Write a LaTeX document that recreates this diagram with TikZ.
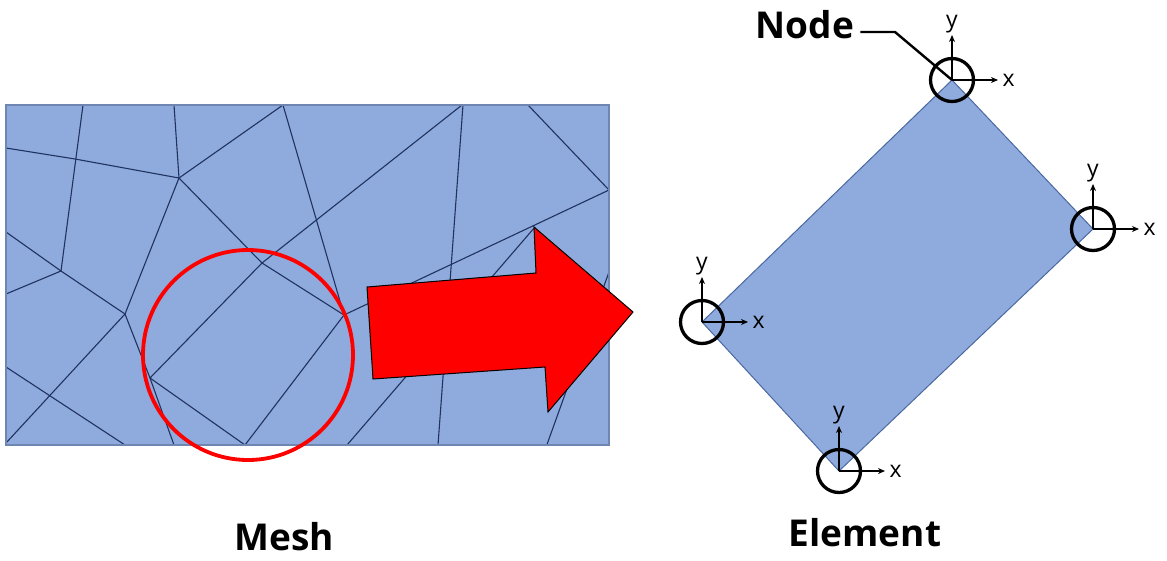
\documentclass[tikz,border=0pt]{standalone}
\usepackage{fontspec}
\setmainfont{Open Sans}
\usetikzlibrary{arrows.meta}

\definecolor{meshblue}{HTML}{8FAADC}
\definecolor{meshline}{HTML}{1F3360}
\definecolor{meshframe}{HTML}{6F86B2}
\definecolor{elemline}{HTML}{4A68A0}

\begin{document}
\begin{tikzpicture}[
    x=1pt, y=-1pt,
    edge/.style={draw=meshline, line width=1.1pt, line join=round},
    frame/.style={draw=meshframe, line width=1.2pt},
    zoomring/.style={circle, draw=red, line width=3.8pt, minimum size=210pt, inner sep=0pt},
    bigarrow/.style={fill=red, draw=black, line width=1pt, line join=miter},
    elem/.style={fill=meshblue, draw=elemline, line width=1pt},
    ring/.style={circle, draw=black, line width=3.3pt, minimum size=43pt, inner sep=0pt},
    axis/.style={-{Stealth[length=7pt, width=6pt]}, line width=1.3pt},
    axlabel/.style={font=\fontsize{23}{25}\selectfont, inner sep=1pt},
    title/.style={font=\fontsize{37}{40}\selectfont\bfseries, inner sep=0pt, anchor=base},
    leader/.style={draw=black, line width=2.4pt},
  ]

  \useasboundingbox (0,0) rectangle (1167,560);

  % Mesh: blue plate cut into quadrilaterals.
  \fill[meshblue] (6,105) rectangle (609,445);
  \begin{scope}
    \clip (6,105) rectangle (609,445);
    \draw[edge] (6,148) -- (75,159) -- (179,178);
    \draw[edge] (83,105) -- (61,271);
    \draw[edge] (174,105) -- (179,178);
    \draw[edge] (179,178) -- (283,105);
    \draw[edge] (179,178) -- (125,314);
    \draw[edge] (179,178) -- (262,263) -- (344,315);
    \draw[edge] (150,378) -- (262,263) -- (462,105);
    \draw[edge] (283,105) -- (344,315);
    \draw[edge] (463,105) -- (438,445);
    \draw[edge] (528,105) -- (609,190) -- (344,315);
    \draw[edge] (6,232) -- (61,271) -- (6,294);
    \draw[edge] (61,271) -- (125,314);
    \draw[edge] (6,367) -- (125,445);
    \draw[edge] (6,443) -- (125,314);
    \draw[edge] (125,314) -- (150,378) -- (174,445);
    \draw[edge] (150,378) -- (245,445) -- (344,315);
    \draw[edge] (347,445) -- (535,227);
    \draw[edge] (545,450) -- (609,272);
  \end{scope}
  \draw[frame] (6,105) rectangle (609,445);

  % The element picked out of the mesh.
  \node[zoomring] (pick) at (248,355) {};

  % Block arrow: mesh -> element.
  \filldraw[bigarrow] (367,287) -- (536,273) -- (534,227) -- (633,312)
    -- (548,412) -- (545,367) -- (373,379) -- cycle;

  % Element with its four corner nodes.
  \coordinate (ctop) at (952,80);
  \coordinate (cright) at (1093,229);
  \coordinate (cbottom) at (839,471);
  \coordinate (cleft) at (702,322);
  \filldraw[elem] (ctop) -- (cright) -- (cbottom) -- (cleft) -- cycle;

  \node[ring] (ntop) at (ctop) {};
  \node[ring] (nright) at (cright) {};
  \node[ring] (nbottom) at (cbottom) {};
  \node[ring] (nleft) at (cleft) {};

  % Local x/y axes at every node.
  \draw[axis] (ntop.center) -- ++(46,0) node[axlabel, anchor=west, xshift=3pt] {x};
  \draw[axis] (ntop.center) -- ++(0,-45) node[axlabel, anchor=south] {y};
  \draw[axis] (nright.center) -- ++(46,0) node[axlabel, anchor=west, xshift=3pt] {x};
  \draw[axis] (nright.center) -- ++(0,-45) node[axlabel, anchor=south] {y};
  \draw[axis] (nleft.center) -- ++(46,0) node[axlabel, anchor=west, xshift=3pt] {x};
  \draw[axis] (nleft.center) -- ++(0,-45) node[axlabel, anchor=south] {y};
  \draw[axis] (nbottom.center) -- ++(46,0) node[axlabel, anchor=west, xshift=3pt] {x};
  \draw[axis] (nbottom.center) -- ++(0,-45) node[axlabel, anchor=south] {y};

  % Labels.
  \node[title] (nodelbl) at (805,38) {Node};
  \coordinate (bend) at (895,32);
  \draw[leader] ([xshift=6pt]nodelbl.east |- bend) -- (bend) -- (ntop.center);

  \node[title] (meshlbl) at (284,550) {Mesh};
  \node[title] (elemlbl) at (865,546) {Element};
\end{tikzpicture}
\end{document}
